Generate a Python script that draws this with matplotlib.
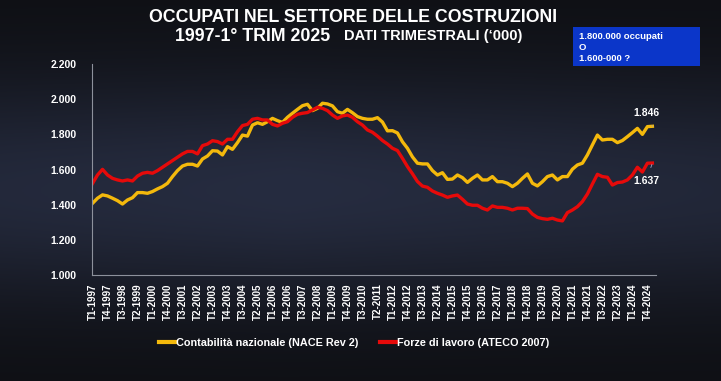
import numpy as np
import matplotlib.pyplot as plt
from matplotlib.lines import Line2D

plt.rcParams['font.family'] = ['Liberation Sans', 'DejaVu Sans']

# quarterly data, T1-1997 .. T1-2025 (thousands)
years = list(range(1997, 2026))
quarters = [f"T{q}-{y}" for y in years for q in range(1, 5)][:113]

contab_naz = [
    1408, 1437, 1456, 1450, 1437, 1423, 1404, 1427, 1440, 1469,
    1469, 1465, 1475, 1490, 1503, 1522, 1560, 1594, 1620, 1630,
    1630, 1620, 1660, 1677, 1707, 1705, 1683, 1730, 1715, 1753,
    1796, 1790, 1853, 1866, 1857, 1872, 1891, 1878, 1868, 1897,
    1920, 1942, 1963, 1971, 1935, 1948, 1977, 1973, 1962, 1929,
    1920, 1942, 1923, 1901, 1891, 1886, 1886, 1895, 1870, 1820,
    1821, 1808, 1758, 1721, 1672, 1636, 1632, 1632, 1594, 1569,
    1582, 1544, 1546, 1569, 1554, 1527, 1550, 1569, 1541, 1541,
    1560, 1531, 1531, 1522, 1503, 1522, 1550, 1575, 1522, 1507,
    1531, 1560, 1569, 1541, 1560, 1560, 1602, 1626, 1636, 1683,
    1740, 1796, 1768, 1772, 1772, 1753, 1765, 1787, 1810, 1834,
    1800, 1844, 1846,
]
forze_lavoro = [
    1521, 1569, 1601, 1569, 1550, 1541, 1535, 1541, 1535, 1563,
    1579, 1584, 1579, 1594, 1613, 1632, 1651, 1670, 1689, 1703,
    1703, 1689, 1736, 1745, 1764, 1759, 1745, 1772, 1772, 1815,
    1850, 1857, 1886, 1891, 1882, 1882, 1857, 1848, 1863, 1872,
    1897, 1914, 1920, 1924, 1939, 1954, 1948, 1935, 1910, 1891,
    1905, 1910, 1897, 1872, 1853, 1825, 1812, 1790, 1765, 1745,
    1721, 1708, 1664, 1617, 1576, 1532, 1506, 1499, 1478, 1465,
    1455, 1442, 1450, 1455, 1431, 1404, 1397, 1397, 1380, 1370,
    1393, 1385, 1385, 1380, 1370, 1380, 1380, 1378, 1347, 1328,
    1321, 1317, 1323, 1313, 1308, 1355, 1370, 1389, 1418, 1461,
    1518, 1573, 1560, 1556, 1512, 1526, 1529, 1541, 1569, 1613,
    1586, 1636, 1637,
]
yticks = [1000, 1200, 1400, 1600, 1800, 2000, 2200]

YEL = '#f4b90c'
RED = '#e60a0a'
BLUE = '#0b36c9'

def it(v):
    return f"{v:,}".replace(',', '.')

fig = plt.figure(figsize=(7.21, 3.81), dpi=100)

# dark gradient background
bg = fig.add_axes([0, 0, 1, 1], zorder=-10)
yy = np.linspace(0, 1, 200)[:, None]
xx = np.linspace(0, 1, 300)[None, :]
glow = np.exp(-((yy - 0.5) / 0.3) ** 2) * (1 - 0.3 * np.abs(xx - 0.4))
c0 = np.array([0x0e, 0x0f, 0x13]) / 255
c1 = np.array([0x26, 0x2c, 0x40]) / 255
img = c0 + glow[..., None] * (c1 - c0)
bg.imshow(img, aspect='auto', extent=[0, 1, 0, 1])
bg.axis('off')

ax = fig.add_axes([0.1272, 0.278, 0.7825, 0.554])
ax.patch.set_alpha(0)
x = np.arange(len(quarters))
ax.plot(x, contab_naz, color=YEL, lw=2.4, solid_joinstyle='round')
ax.plot(x, forze_lavoro, color=RED, lw=2.4, solid_joinstyle='round')

ax.set_xlim(-0.16, 112.7)
ax.set_ylim(1000, 2200)
ax.set_yticks(yticks)
ax.set_yticklabels([it(v) for v in yticks])
ax.set_xticks(x[::3])
ax.set_xticklabels(quarters[::3], rotation=90)
ax.tick_params(length=0, colors='white', labelsize=7)
ax.tick_params(axis='y', pad=11, labelsize=7.5)
ax.tick_params(axis='x', pad=6)
for lab in ax.get_xticklabels() + ax.get_yticklabels():
    lab.set_fontweight('bold')
for s in ['top', 'right']:
    ax.spines[s].set_visible(False)
for s in ['left', 'bottom']:
    ax.spines[s].set_color('#8d919c')
    ax.spines[s].set_linewidth(0.8)

# end-value labels
last = len(quarters) - 1
ax.annotate(it(contab_naz[-1]), xy=(last, contab_naz[-1]),
            xytext=(last - 1.2, contab_naz[-1] + 78), ha='center', va='center',
            color='white', fontsize=7.5, fontweight='bold',
            arrowprops=dict(arrowstyle='-', color='#9aa0c8', lw=0.6, shrinkA=4, shrinkB=1))
ax.annotate(it(forze_lavoro[-1]), xy=(last, forze_lavoro[-1]),
            xytext=(last - 1.2, forze_lavoro[-1] - 100), ha='center', va='center',
            color='white', fontsize=7.5, fontweight='bold',
            arrowprops=dict(arrowstyle='-', color='#9aa0c8', lw=0.6, shrinkA=4, shrinkB=1))

# title
fig.text(0.49, 0.953, "OCCUPATI NEL SETTORE DELLE COSTRUZIONI", ha='center', va='center',
         color='white', fontsize=12.8, fontweight='bold')
fig.text(0.458, 0.905, "1997-1° TRIM 2025", ha='right', va='center',
         color='white', fontsize=12.8, fontweight='bold')
fig.text(0.477, 0.905, "DATI TRIMESTRALI (‘000)", ha='left', va='center',
         color='white', fontsize=10.5, fontweight='bold')

# blue box
fig.patches.append(plt.Rectangle((0.795, 0.827), 0.176, 0.102, transform=fig.transFigure,
                                 fc=BLUE, ec='none', zorder=0.5))
fig.text(0.803, 0.875, "1.800.000 occupati\nO\n1.600-000 ?", ha='left', va='center',
         color='white', fontsize=6.8, fontweight='bold', linespacing=1.25)

handles = [Line2D([], [], color=YEL, lw=3), Line2D([], [], color=RED, lw=3)]
leg = fig.legend(handles, ["Contabilità nazionale (NACE Rev 2)", "Forze di lavoro (ATECO 2007)"],
                 loc='center', bbox_to_anchor=(0.491, 0.1), ncol=2, frameon=False,
                 handlelength=1.6, handletextpad=0.0, columnspacing=2.0,
                 prop={'weight': 'bold', 'size': 7.8})
for t in leg.get_texts():
    t.set_color('white')

fig.savefig('out.png', dpi=100)
